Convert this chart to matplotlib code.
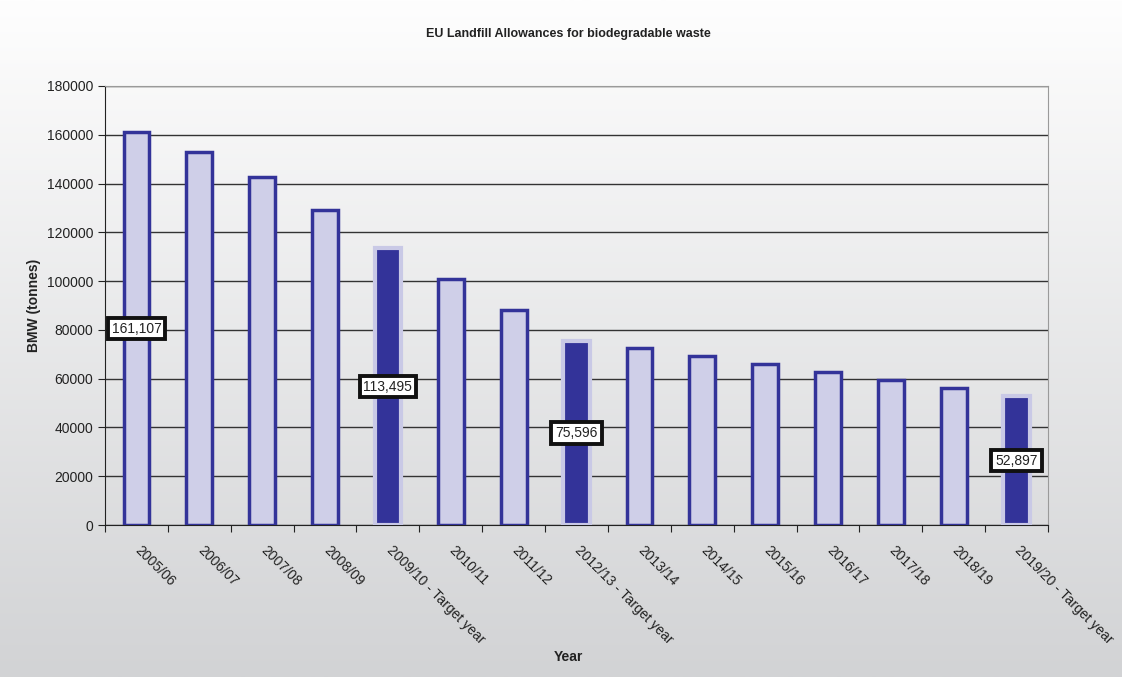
import numpy as np
import matplotlib.pyplot as plt

plt.rcParams['font.family'] = ['Liberation Sans', 'DejaVu Sans']

years = ['2005/06', '2006/07', '2007/08', '2008/09', '2009/10 - Target year',
         '2010/11', '2011/12', '2012/13 - Target year', '2013/14', '2014/15',
         '2015/16', '2016/17', '2017/18', '2018/19', '2019/20 - Target year']
allowance = [161107, 153000, 142700, 129200, 113495, 100900, 88200, 75596,
             72600, 69300, 66000, 62700, 59400, 56200, 52897]
target = [False, False, False, False, True, False, False, True,
          False, False, False, False, False, False, True]
labelled = [0, 4, 7, 14]

light_fill = '#cfcfe8'
dark_fill = '#333399'
halo = '#c9c9e6'

fig = plt.figure(figsize=(11.22, 6.77), dpi=100)

# vertical grey gradient behind everything
bg = fig.add_axes([0, 0, 1, 1], zorder=-10)
grad = np.linspace(0, 1, 256).reshape(-1, 1)
bg.imshow(grad, aspect='auto', cmap=plt.matplotlib.colors.LinearSegmentedColormap.from_list(
    'bg', ['#fefefe', '#d2d3d5']), extent=[0, 1, 0, 1], origin='upper')
bg.axis('off')

ax = fig.add_axes([0.0936, 0.2245, 0.8405, 0.6485])
ax.set_facecolor('none')

x = np.arange(len(years))
for i, (v, t) in enumerate(zip(allowance, target)):
    if t:
        ax.bar(x[i], v, width=0.42, color=dark_fill, edgecolor=halo, linewidth=3, zorder=3)
    else:
        ax.bar(x[i], v, width=0.41, color=light_fill, edgecolor=dark_fill, linewidth=2.5, zorder=3)

for i in labelled:
    ax.text(x[i], allowance[i] / 2, f'{allowance[i]:,}', ha='center', va='center',
            fontsize=10, color='#222222', zorder=5,
            bbox=dict(boxstyle='square,pad=0.28', facecolor='white', edgecolor='#111111', linewidth=2.8))

ax.set_xlim(-0.5, len(years) - 0.5)
ax.set_ylim(0, 180000)
ax.set_yticks(np.arange(0, 180001, 20000))
ax.tick_params(axis='y', labelsize=10, length=5, colors='#222222')
ax.yaxis.grid(True, color='#333333', linewidth=1, zorder=1)
ax.set_axisbelow(True)

# ticks sit on category boundaries, labels run diagonally from category centres
ax.set_xticks(np.arange(-0.5, len(years) + 0.5, 1))
ax.set_xticklabels([])
ax.tick_params(axis='x', length=5, colors='#222222')
for i, name in enumerate(years):
    ax.annotate(name, xy=(x[i], 0), xycoords=('data', 'axes fraction'),
                xytext=(4, -13), textcoords='offset points',
                rotation=-45, rotation_mode='anchor', ha='left', va='top',
                fontsize=10, color='#222222')

for side in ['top', 'right']:
    ax.spines[side].set_color('#9a9a9a')
for side in ['left', 'bottom']:
    ax.spines[side].set_color('#222222')

ax.set_ylabel('BMW (tonnes)', fontsize=10, fontweight='bold', color='#222222', labelpad=4)
fig.text(0.507, 0.03, 'Year', ha='center', va='center', fontsize=10, fontweight='bold', color='#222222')
fig.text(0.507, 0.95, 'EU Landfill Allowances for biodegradable waste', ha='center', va='center',
         fontsize=9, fontweight='bold', color='#222222')

fig.savefig('out.png', dpi=100)
